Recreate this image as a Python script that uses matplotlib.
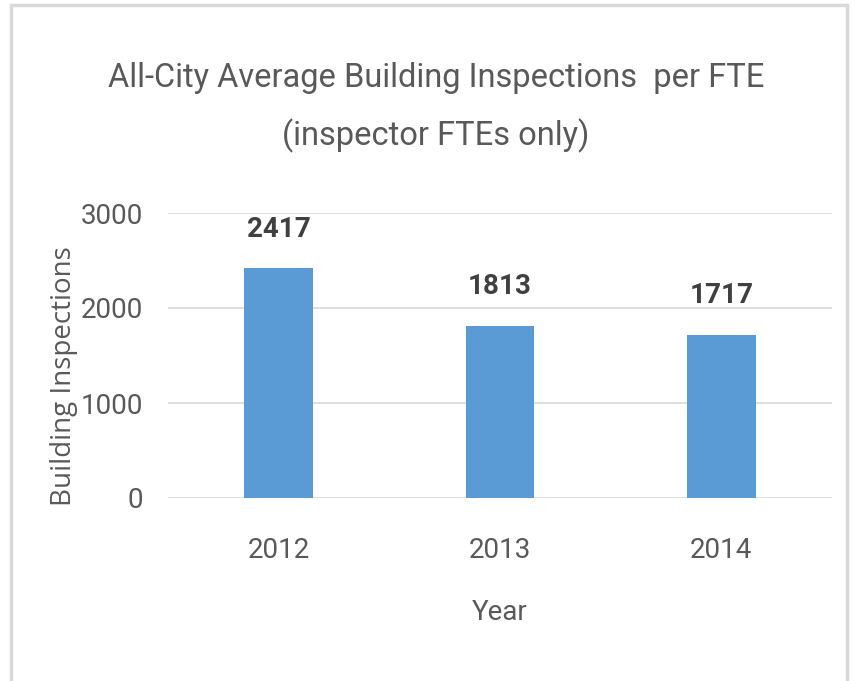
import matplotlib.pyplot as plt
from matplotlib.patches import Rectangle

years = ["2012", "2013", "2014"]
inspections = [2417, 1813, 1717]
y_ticks = [0, 1000, 2000, 3000]

TEXT = "#595959"
narrow = ["Roboto", "DejaVu Sans"]

fig = plt.figure(figsize=(8.61, 6.81), dpi=100)

# chart frame like the Excel border
fig.patches.append(Rectangle((11 / 861, -0.01), (836 / 861), 1 - 5 / 681 + 0.01,
                             transform=fig.transFigure, fill=False,
                             edgecolor="#D9D9D9", linewidth=2.5))

ax = fig.add_axes([168 / 861, 1 - 498 / 681, 664 / 861, 285 / 681])
x = range(len(years))
bars = ax.bar(x, inspections, width=0.31, color="#5B9BD5", zorder=3)

ax.set_xlim(-0.5, 2.5)
ax.set_ylim(0, 3000)
ax.set_yticks(y_ticks)
ax.set_xticks(list(x))
ax.set_xticklabels(years)
ax.grid(axis="y", color="#D9D9D9", linewidth=1.2, zorder=0)
for s in ax.spines.values():
    s.set_visible(False)
ax.tick_params(length=0, labelsize=20, labelcolor=TEXT)
ax.tick_params(axis="y", pad=18)
ax.tick_params(axis="x", pad=28)
for lbl in ax.get_xticklabels() + ax.get_yticklabels():
    lbl.set_family(narrow)

for b, v in zip(bars, inspections):
    ax.text(b.get_x() + b.get_width() / 2, v + 270, str(v), ha="center",
            va="bottom", fontsize=20, fontweight="bold", color="#404040",
            family=narrow)

ax.set_xlabel("Year", fontsize=20, color=TEXT, family=narrow, labelpad=25)
fig.text(78 / 861, 1 - 376 / 681, "Building Inspections", rotation=90,
         ha="right", va="center", fontsize=20, color=TEXT,
         family=["Open Sans", "DejaVu Sans"])

fig.text(436 / 861, 1 - 78 / 681, "All-City Average Building Inspections  per FTE",
         ha="center", va="center", fontsize=23.5, color=TEXT, family=narrow)
fig.text(436 / 861, 1 - 136 / 681, "(inspector FTEs only)",
         ha="center", va="center", fontsize=23.5, color=TEXT, family=narrow)

fig.savefig("out.png", dpi=100)
